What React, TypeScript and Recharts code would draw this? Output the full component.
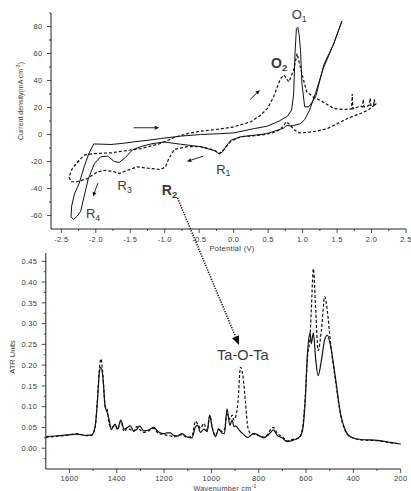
import React from 'react';
import { LineChart, Line, XAxis, YAxis, ReferenceDot, ReferenceLine } from 'recharts';

const FONT = '"Liberation Sans", Arial, sans-serif';
const INK = '#222';
const TEXT = '#3a3a3a';

// cyclic voltammogram, solid scan (potential V / current mA cm-3)
const cvSolidPotential = [
  -2.03, -1.9, -1.78, -1.6, -1.44, -1.2, -1.06, -0.77, -0.48, -0.2,
  0.0, 0.3, 0.49, 0.66, 0.78, 0.84, 0.87, 0.89, 0.91, 0.93,
  0.95, 0.97, 0.99, 1.03, 1.09, 1.19, 1.31, 1.45, 1.57,
  1.45, 1.3, 1.19, 1.1, 1.03, 0.97, 0.85, 0.76, 0.72, 0.65,
  0.49, 0.3, 0.1, -0.04, -0.1, -0.16, -0.21, -0.28, -0.48, -0.77,
  -1.01, -1.2, -1.35, -1.47, -1.57, -1.66, -1.73, -1.83, -1.93, -2.02,
  -2.11, -2.17, -2.22, -2.27, -2.32, -2.36, -2.35, -2.31, -2.24, -2.17,
  -2.1, -2.03,
];
const cvSolidCurrent = [
  -7, -7.2, -7.4, -6.5, -5.4, -4, -3, -1.2, 0, 0.6,
  1.2, 4.4, 6.2, 10, 13.5, 18, 30, 60, 78.5, 79.5,
  74, 62, 38, 20.5, 20.5, 28, 52, 67, 84,
  67, 49, 31, 18, 11, 8, 6.5, 6.5, 4.5, 3.5,
  0.7, -0.5, -1.7, -4.2, -8, -12.8, -14.3, -12, -9, -7.2,
  -5.5, -7, -9, -11.5, -17, -20.7, -20, -16, -16.5, -21.5,
  -33, -46, -57, -60.5, -63, -61, -53, -44, -36, -24,
  -14, -7,
];

// cyclic voltammogram, dashed scan
const cvDashedPotential = [
  -2.17, -2.02, -1.78, -1.35, -1.06, -0.86, -0.67, -0.48, -0.2, 0.0,
  0.25, 0.39, 0.49, 0.58, 0.68, 0.73, 0.8, 0.87, 0.92, 0.99,
  1.06, 1.15, 1.3, 1.45, 1.6, 1.71, 1.72, 1.73, 1.78, 1.84,
  1.87, 1.88, 1.89, 1.94, 1.97, 1.98, 1.99, 2.03, 2.04, 2.05,
  2.07,
  1.95, 1.84, 1.65, 1.5, 1.36, 1.21, 1.05, 0.95, 0.88, 0.8,
  0.76, 0.72, 0.65, 0.55, 0.4, 0.1, -0.04, -0.14, -0.21, -0.28,
  -0.48, -0.67, -0.86, -0.94, -0.99, -1.06, -1.2, -1.4, -1.54, -1.66,
  -1.73, -1.86, -1.98, -2.12, -2.27, -2.36, -2.39, -2.34, -2.22, -2.17,
];
const cvDashedCurrent = [
  -15.3, -14.1, -13.6, -10.4, -6.7, -2.2, 0.7, 2.5, 4, 5.7,
  9.4, 14.3, 19.3, 28, 41.5, 44, 39, 47.7, 60, 45,
  31.6, 28, 24, 19.3, 18.5, 19, 30, 19, 20, 21,
  20.5, 26, 20.5, 21, 22, 27, 21.5, 22, 26, 22,
  23,
  18, 15.6, 11.9, 8, 4.4, 2.5, 1.5, 1.2, 3.5, 8,
  9.5, 6, 3, 1, -0.5, -1.7, -5, -11, -14, -11.6,
  -9, -9, -11, -17.8, -24, -26, -25.2, -24, -26.5, -28.9,
  -27.7, -26.5, -27.7, -32.6, -35, -35, -31.4, -25, -18, -15.3,
];

const potentialTicks = [
  -2.5, -2.25, -2, -1.75, -1.5, -1.25, -1, -0.75, -0.5, -0.25, 0,
  0.25, 0.5, 0.75, 1, 1.25, 1.5, 1.75, 2, 2.25, 2.5,
];
const currentTicks = [-60, -50, -40, -30, -20, -10, 0, 10, 20, 30, 40, 50, 60, 70, 80, 90];

// ATR spectra
const wavenumbers = [
  1700, 1650, 1612, 1570, 1527, 1506, 1492, 1482, 1473, 1467,
  1459, 1449, 1440, 1433, 1423, 1407, 1397, 1383, 1369, 1355,
  1343, 1329, 1316, 1303, 1287, 1265, 1244, 1223, 1200, 1188,
  1174, 1160, 1145, 1124, 1103, 1082, 1067, 1058, 1046, 1032,
  1018, 1007, 997, 983, 969, 955, 945, 934, 922, 912,
  905, 898, 888, 877, 866, 856, 846, 835, 821, 800,
  778, 760, 750, 738, 722, 701, 680, 651, 630, 616,
  604, 594, 583, 578, 569, 559, 549, 535, 521, 510,
  496, 475, 454, 433, 411, 369, 298, 242, 200,
];
const atrSolid = [
  0.028, 0.030, 0.032, 0.034, 0.031, 0.032, 0.050, 0.112, 0.185, 0.195,
  0.172, 0.100, 0.085, 0.070, 0.045, 0.058, 0.046, 0.068, 0.046, 0.050,
  0.054, 0.042, 0.045, 0.054, 0.042, 0.044, 0.050, 0.039, 0.035, 0.037,
  0.037, 0.031, 0.029, 0.035, 0.027, 0.025, 0.052, 0.055, 0.038, 0.046,
  0.040, 0.080, 0.050, 0.028, 0.046, 0.036, 0.035, 0.095, 0.055, 0.068,
  0.052, 0.054, 0.048, 0.040, 0.034, 0.029, 0.026, 0.030, 0.036, 0.031,
  0.025, 0.032, 0.038, 0.044, 0.031, 0.025, 0.016, 0.020, 0.026, 0.040,
  0.110, 0.228, 0.278, 0.252, 0.278, 0.212, 0.175, 0.212, 0.262, 0.272,
  0.245, 0.166, 0.082, 0.042, 0.027, 0.021, 0.019, 0.014, 0.010,
];
const atrDashed = [
  0.026, 0.029, 0.031, 0.035, 0.030, 0.031, 0.048, 0.115, 0.195, 0.215,
  0.180, 0.100, 0.092, 0.060, 0.050, 0.055, 0.045, 0.065, 0.040, 0.048,
  0.045, 0.040, 0.052, 0.045, 0.038, 0.042, 0.048, 0.035, 0.033, 0.031,
  0.030, 0.027, 0.030, 0.033, 0.026, 0.030, 0.065, 0.058, 0.048, 0.060,
  0.042, 0.079, 0.052, 0.030, 0.048, 0.040, 0.045, 0.082, 0.070, 0.080,
  0.068, 0.075, 0.110, 0.195, 0.170, 0.110, 0.050, 0.036, 0.034, 0.030,
  0.027, 0.035, 0.045, 0.050, 0.036, 0.028, 0.018, 0.022, 0.024, 0.045,
  0.120, 0.220, 0.270, 0.330, 0.432, 0.330, 0.235, 0.285, 0.365, 0.330,
  0.250, 0.160, 0.080, 0.040, 0.027, 0.020, 0.018, 0.013, 0.010,
];

const wavenumberTicks = [1600, 1500, 1400, 1300, 1200, 1100, 1000, 900, 800, 700, 600, 500, 400, 300, 200];
const atrTicks = [
  -0.025, 0, 0.025, 0.05, 0.075, 0.1, 0.125, 0.15, 0.175, 0.2,
  0.225, 0.25, 0.275, 0.3, 0.325, 0.35, 0.375, 0.4, 0.425, 0.45,
];

const cvSolid = cvSolidPotential.map((x, i) => ({ x, y: cvSolidCurrent[i] }));
const cvDashed = cvDashedPotential.map((x, i) => ({ x, y: cvDashedCurrent[i] }));
const atrData = wavenumbers.map((w, i) => ({ w, solid: atrSolid[i], dashed: atrDashed[i] }));

const near = (a: number, b: number) => Math.abs(a - b) < 1e-6;

// ticks drawn by hand so minor ticks can be shorter and unlabelled
const makeXTick = (isMajor: (v: number) => boolean, fmt: (v: number) => string, labelDy = 12.8) => (props: any) => {
  const { x, y, payload } = props;
  const major = isMajor(payload.value);
  return (
    <g>
      <line x1={x} y1={y} x2={x} y2={y + (major ? 4 : 2)} stroke={INK} strokeWidth={0.8} />
      {major && (
        <text x={x} y={y + labelDy} textAnchor="middle" fontSize={7.5} letterSpacing={0.3} fill={TEXT} fontFamily={FONT}>
          {fmt(payload.value)}
        </text>
      )}
    </g>
  );
};

const makeYTick = (isMajor: (v: number) => boolean, fmt: (v: number) => string) => (props: any) => {
  const { x, y, payload } = props;
  const major = isMajor(payload.value);
  return (
    <g>
      <line x1={x} y1={y} x2={x - (major ? 4 : 2)} y2={y} stroke={INK} strokeWidth={0.8} />
      {major && (
        <text x={x - 8.5} y={y + 2.7} textAnchor="end" fontSize={7.5} letterSpacing={0.3} fill={TEXT} fontFamily={FONT}>
          {fmt(payload.value)}
        </text>
      )}
    </g>
  );
};

const peakLabel = (main: string, sub: string, bold: boolean, size: number) => (p: any) => (
  <text
    x={p.cx}
    y={p.cy + size * 0.36}
    textAnchor="middle"
    fontSize={size}
    fontWeight={bold ? 'bold' : 'normal'}
    fill={TEXT}
    fontFamily={FONT}
  >
    {main}
    <tspan fontSize={size * 0.68} dy={size * 0.22}>{sub}</tspan>
  </text>
);

const arrowShape = (p: any) => {
  const { x1, y1, x2, y2 } = p;
  const len = Math.hypot(x2 - x1, y2 - y1) || 1;
  const ux = (x2 - x1) / len;
  const uy = (y2 - y1) / len;
  const bx = x2 - ux * 4.5;
  const by = y2 - uy * 4.5;
  return (
    <g>
      <line x1={x1} y1={y1} x2={bx} y2={by} stroke="#111" strokeWidth={0.9} />
      <polygon points={`${x2},${y2} ${bx - uy * 2},${by + ux * 2} ${bx + uy * 2},${by - ux * 2}`} fill="#111" />
    </g>
  );
};

const VoltammogramChart = () => (
  <LineChart width={411} height={250} margin={{ top: 13, right: 5, bottom: 1, left: 21 }}>
    <XAxis
      type="number"
      dataKey="x"
      domain={[-2.65, 2.5]}
      allowDataOverflow
      ticks={potentialTicks}
      interval={0}
      height={20}
      tickSize={0}
      tickMargin={0}
      tickLine={false}
      stroke={INK}
      tick={makeXTick((v) => near(v * 2, Math.round(v * 2)), (v) => v.toFixed(1))}
    />
    <YAxis
      type="number"
      domain={[-70, 90]}
      allowDataOverflow
      ticks={currentTicks}
      interval={0}
      width={30}
      tickSize={0}
      tickMargin={0}
      tickLine={false}
      stroke={INK}
      tick={makeYTick((v) => v % 20 === 0, (v) => String(v))}
    />
    <Line data={cvSolid} dataKey="y" type="linear" stroke="#111" strokeWidth={1} dot={false} activeDot={false} isAnimationActive={false} />
    <Line data={cvDashed} dataKey="y" type="linear" stroke="#111" strokeWidth={1.2} strokeDasharray="3 2" dot={false} activeDot={false} isAnimationActive={false} />

    <ReferenceDot x={0.95} y={89} r={0} ifOverflow="visible" shape={peakLabel('O', '1', false, 13)} />
    <ReferenceDot x={0.66} y={53} r={0} ifOverflow="visible" shape={peakLabel('O', '2', true, 14)} />
    <ReferenceDot x={-0.15} y={-25.5} r={0} ifOverflow="visible" shape={peakLabel('R', '1', false, 13)} />
    <ReferenceDot x={-0.93} y={-41} r={0} ifOverflow="visible" shape={peakLabel('R', '2', true, 14)} />
    <ReferenceDot x={-1.58} y={-38} r={0} ifOverflow="visible" shape={peakLabel('R', '3', false, 13)} />
    <ReferenceDot x={-2.04} y={-58.5} r={0} ifOverflow="visible" shape={peakLabel('R', '4', false, 13)} />

    <ReferenceLine segment={[{ x: -1.45, y: 5 }, { x: -1.08, y: 5 }]} ifOverflow="visible" shape={arrowShape} />
    <ReferenceLine segment={[{ x: 0.24, y: 26 }, { x: 0.38, y: 33 }]} ifOverflow="visible" shape={arrowShape} />
    <ReferenceLine segment={[{ x: -0.44, y: -16 }, { x: -0.68, y: -20 }]} ifOverflow="visible" shape={arrowShape} />
    <ReferenceLine segment={[{ x: -1.97, y: -36 }, { x: -2.04, y: -46 }]} ifOverflow="visible" shape={arrowShape} />
  </LineChart>
);

const AtrChart = () => (
  <LineChart width={411} height={251} data={atrData} margin={{ top: 13, right: 10.3, bottom: 0, left: 15.8 }}>
    <XAxis
      type="number"
      dataKey="w"
      domain={[200, 1700]}
      reversed
      allowDataOverflow
      ticks={wavenumberTicks}
      interval={0}
      height={22}
      tickSize={0}
      tickMargin={0}
      tickLine={false}
      stroke={INK}
      tick={makeXTick((v) => v % 200 === 0, (v) => String(v), 12.2)}
    />
    <YAxis
      type="number"
      domain={[-0.05, 0.47]}
      allowDataOverflow
      ticks={atrTicks}
      interval={0}
      width={30}
      tickSize={0}
      tickMargin={0}
      tickLine={false}
      stroke={INK}
      tick={makeYTick((v) => near(v * 20, Math.round(v * 20)), (v) => v.toFixed(2))}
    />
    <Line dataKey="solid" type="monotone" stroke="#111" strokeWidth={1.2} dot={false} activeDot={false} isAnimationActive={false} />
    <Line dataKey="dashed" type="monotone" stroke="#111" strokeWidth={1.2} strokeDasharray="3 2" dot={false} activeDot={false} isAnimationActive={false} />
    <ReferenceDot
      x={867}
      y={0.224}
      r={0}
      ifOverflow="visible"
      shape={(p: any) => (
        <text x={p.cx} y={p.cy + 5} textAnchor="middle" fontSize={14.5} fill={TEXT} fontFamily={FONT}>
          Ta-O-Ta
        </text>
      )}
    />
  </LineChart>
);

// dotted arrow from R2 down to the Ta-O-Ta band, crossing both panels
const linkStart = { x: 177.5, y: 198 };
const linkEnd = { x: 239, y: 345 };

const Overlay = () => {
  const len = Math.hypot(linkEnd.x - linkStart.x, linkEnd.y - linkStart.y);
  const ux = (linkEnd.x - linkStart.x) / len;
  const uy = (linkEnd.y - linkStart.y) / len;
  const bx = linkEnd.x - ux * 9;
  const by = linkEnd.y - uy * 9;
  return (
    <svg width={411} height={491} style={{ position: 'absolute', left: 0, top: 0, pointerEvents: 'none' }}>
      <line x1={linkStart.x} y1={linkStart.y} x2={bx} y2={by} stroke="#111" strokeWidth={1.6} strokeDasharray="1.2 1.3" />
      <polygon
        points={`${linkEnd.x},${linkEnd.y} ${bx - uy * 3.8},${by + ux * 3.8} ${bx + uy * 3.8},${by - ux * 3.8}`}
        fill="#111"
      />
      <text x={20.7} y={101} transform="rotate(-90 20.7 101)" dy={2.5} textAnchor="middle" fontSize={7} fill={TEXT} fontFamily={FONT}>
        Current density(mA cm<tspan fontSize={5} dy={-3}>-3</tspan>
        <tspan dy={3}>)</tspan>
      </text>
      <text x={232} y={251} textAnchor="middle" fontSize={7.5} letterSpacing={0.3} fill={TEXT} fontFamily={FONT}>
        Potential (V)
      </text>
      <text x={12} y={357} transform="rotate(-90 12 357)" dy={2.6} textAnchor="middle" fontSize={7.5} fill={TEXT} fontFamily={FONT}>
        ATR Units
      </text>
      <text x={225} y={490.5} textAnchor="middle" fontSize={7.2} letterSpacing={0.3} fill={TEXT} fontFamily={FONT}>
        Wavenumber cm<tspan fontSize={5} dy={-3}>-1</tspan>
      </text>
    </svg>
  );
};

export default function App() {
  return (
    <div style={{ position: 'absolute', left: 0, top: 0, width: 411, height: 491, background: '#fff', overflow: 'hidden' }}>
      <div style={{ position: 'absolute', left: 0, top: 0 }}>
        <VoltammogramChart />
      </div>
      <div style={{ position: 'absolute', left: 0, top: 240 }}>
        <AtrChart />
      </div>
      <Overlay />
    </div>
  );
}
